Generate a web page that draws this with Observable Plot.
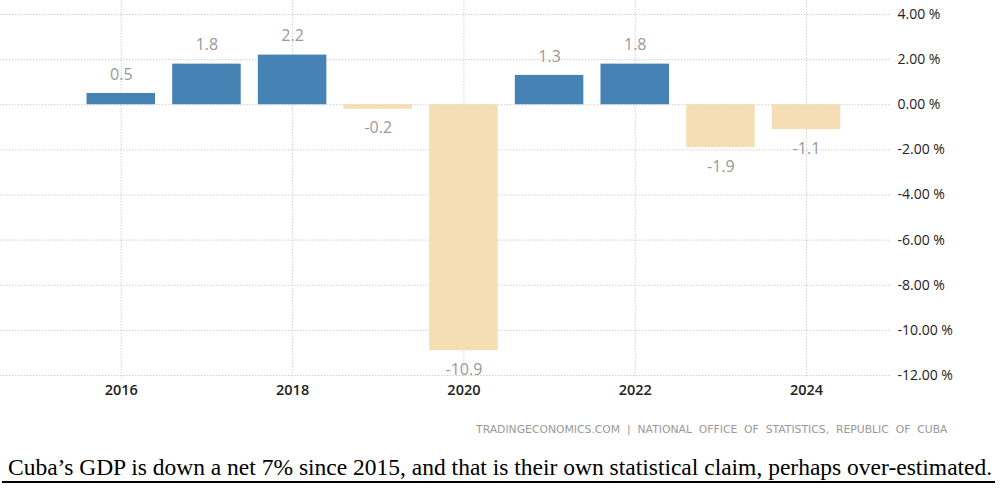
<!DOCTYPE html>
<html>
<head>
<meta charset="utf-8">
<script src="https://cdn.jsdelivr.net/npm/d3@7"></script>
<script src="https://cdn.jsdelivr.net/npm/@observablehq/plot@0.6"></script>
<style>
  html, body { margin: 0; padding: 0; background: #fff; }
  #chart { position: relative; width: 1000px; }
  #caption {
    position: absolute; left: 2px; top: 454px; width: 993px;
    font-family: "Liberation Serif", "Times New Roman", serif;
    font-size: 23.5px; color: #000; white-space: nowrap;
    border-bottom: 2px solid #000; padding: 0 0 1px 6px; box-sizing: border-box;
    line-height: 26px;
  }
</style>
</head>
<body>
<div id="chart"></div>
<div id="caption">Cuba’s GDP is down a net 7% since 2015, and that is their own statistical claim, perhaps over-estimated.</div>
<script>
// Annual GDP growth rate, Cuba (%)
const years = [2016, 2017, 2018, 2019, 2020, 2021, 2022, 2023, 2024];
const growth = [0.5, 1.8, 2.2, -0.2, -10.9, 1.3, 1.8, -1.9, -1.1];
const yTicks = [4, 2, 0, -2, -4, -6, -8, -10, -12];
const xTicks = [2016, 2018, 2020, 2022, 2024];
const source = "TRADINGECONOMICS.COM  |  NATIONAL  OFFICE  OF  STATISTICS,  REPUBLIC  OF  CUBA";

const data = years.map((year, i) => ({year, value: growth[i]}));
const positive = data.filter(d => d.value >= 0);
const negative = data.filter(d => d.value < 0);
const blue = "#4682b4";
const beige = "#f5deb3";
const font = "'Open Sans', 'DejaVu Sans', sans-serif";
const smallFont = "'DejaVu Sans', Verdana, sans-serif";

const chart = Plot.plot({
  width: 1000,
  height: 445,
  marginTop: 0,
  marginLeft: 0,
  marginRight: 110,
  marginBottom: 70,
  style: {fontFamily: font, background: "#fff"},
  x: {domain: [2014.59, 2024.98], label: null},
  y: {domain: [-12, 4.62], label: null},
  marks: [
    // dotted grid
    Plot.ruleY(yTicks, {stroke: "#d0d0d0", strokeDasharray: "1.5,1.5", strokeWidth: 1}),
    Plot.ruleX(xTicks, {stroke: "#d0d0d0", strokeDasharray: "1.5,1.5", strokeWidth: 1, y1: 4.62, y2: -12.15}),
    // bars
    Plot.rectY(data, {
      x1: d => d.year - 0.4,
      x2: d => d.year + 0.4,
      y1: 0,
      y2: "value",
      fill: d => d.value >= 0 ? blue : beige
    }),
    // value labels above positive bars, below negative ones
    Plot.text(positive, {
      x: "year", y: "value", text: d => d.value.toFixed(1),
      dy: -19, fill: "#999", fontSize: 16, fontFamily: font
    }),
    Plot.text(negative, {
      x: "year", y: "value", text: d => d.value.toFixed(1),
      dy: 19, fill: "#999", fontSize: 16, fontFamily: font
    }),
    Plot.axisX(xTicks, {
      anchor: "bottom", tickSize: 0, tickPadding: 9, label: null, fontFamily: font,
      fontSize: 14.5, fill: "#222", fontWeight: 600, tickFormat: d => String(d)
    }),
    Plot.axisY(yTicks, {
      anchor: "right", tickSize: 0, tickPadding: 7, label: null, fontFamily: font,
      fontSize: 14, fill: "#222", textAnchor: "start",
      tickFormat: d => d.toFixed(2) + " %"
    }),
    Plot.text([source], {
      frameAnchor: "bottom-right", dx: 57, dy: 57,
      text: d => d, fill: "#999", fontSize: 10.8, textAnchor: "end", fontFamily: smallFont
    })
  ]
});
document.getElementById("chart").appendChild(chart);
</script>
</body>
</html>
